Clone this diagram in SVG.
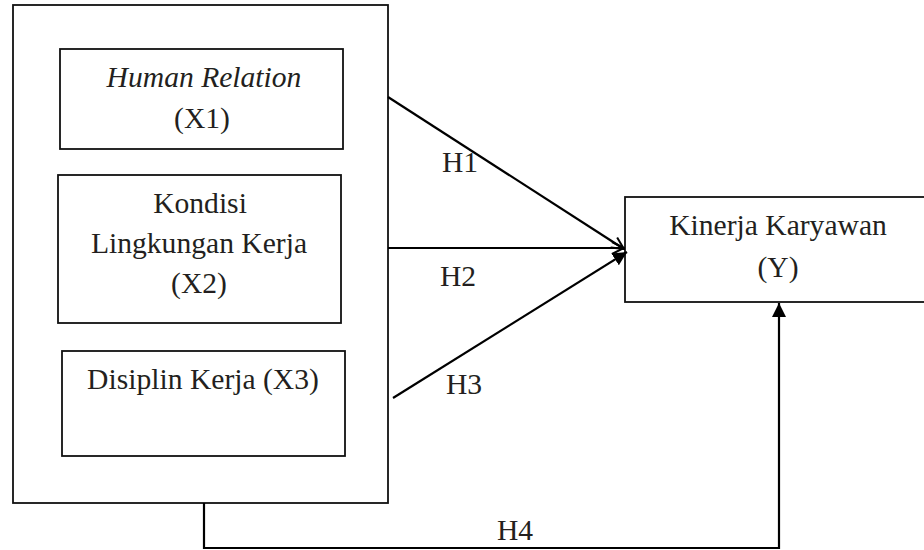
<svg xmlns="http://www.w3.org/2000/svg" width="924" height="550" viewBox="0 0 924 550">
<style>
.box{fill:none;stroke:#111;stroke-width:1.8}
.t{font-family:"Liberation Serif","Times New Roman",serif;font-size:29.6px;fill:#231f20;text-anchor:middle}
.h{font-family:"Liberation Serif","Times New Roman",serif;font-size:29.6px;fill:#231f20}
.c{fill:none;stroke:#000;stroke-width:2.2}
</style>
<defs>
<marker id="open" viewBox="0 0 14 14" refX="13" refY="7" markerWidth="14" markerHeight="14" markerUnits="userSpaceOnUse" orient="auto">
<polyline points="1,1 13,7 1,13" fill="none" stroke="#000" stroke-width="2"/>
</marker>
<marker id="fill" viewBox="0 0 14 14" refX="14" refY="7" markerWidth="14" markerHeight="14" markerUnits="userSpaceOnUse" orient="auto">
<polygon points="0,0 14,7 0,14" fill="#000"/>
</marker>
<clipPath id="h3clip"><rect x="430" y="360" width="70" height="34"/></clipPath>
</defs>
<rect width="924" height="550" fill="#fff"/>
<g id="outer"><rect class="box" x="13" y="5" width="375" height="498"/></g>
<g id="x1">
<rect class="box" x="60" y="49" width="283" height="100"/>
<text class="t" x="204" y="87" font-style="italic">Human Relation</text>
<text class="t" x="202" y="128">(X1)</text>
</g>
<g id="x2">
<rect class="box" x="58" y="175" width="283" height="148"/>
<text class="t" x="200" y="213">Kondisi</text>
<text class="t" x="199" y="253">Lingkungan Kerja</text>
<text class="t" x="199" y="293">(X2)</text>
</g>
<g id="x3">
<rect class="box" x="62" y="351" width="283" height="105"/>
<text class="t" x="203" y="389">Disiplin Kerja (X3)</text>
</g>
<g id="y">
<rect class="box" x="625" y="197" width="305" height="105"/>
<text class="t" x="778" y="235">Kinerja Karyawan</text>
<text class="t" x="778" y="277">(Y)</text>
</g>
<g id="connectors">
<line class="c" x1="388" y1="97" x2="624" y2="249" marker-end="url(#open)"/>
<line class="c" x1="388" y1="248" x2="624" y2="248" marker-end="url(#open)"/>
<line class="c" x1="393" y1="398" x2="627" y2="252" marker-end="url(#fill)"/>
<polyline class="c" points="204,503 204,548 779,548 779,303" marker-end="url(#fill)"/>
<text class="h" x="442" y="172">H1</text>
<text class="h" x="440" y="286">H2</text>
<text class="h" x="446" y="394" clip-path="url(#h3clip)">H3</text>
<text class="h" x="497" y="540">H4</text>
</g>
</svg>
